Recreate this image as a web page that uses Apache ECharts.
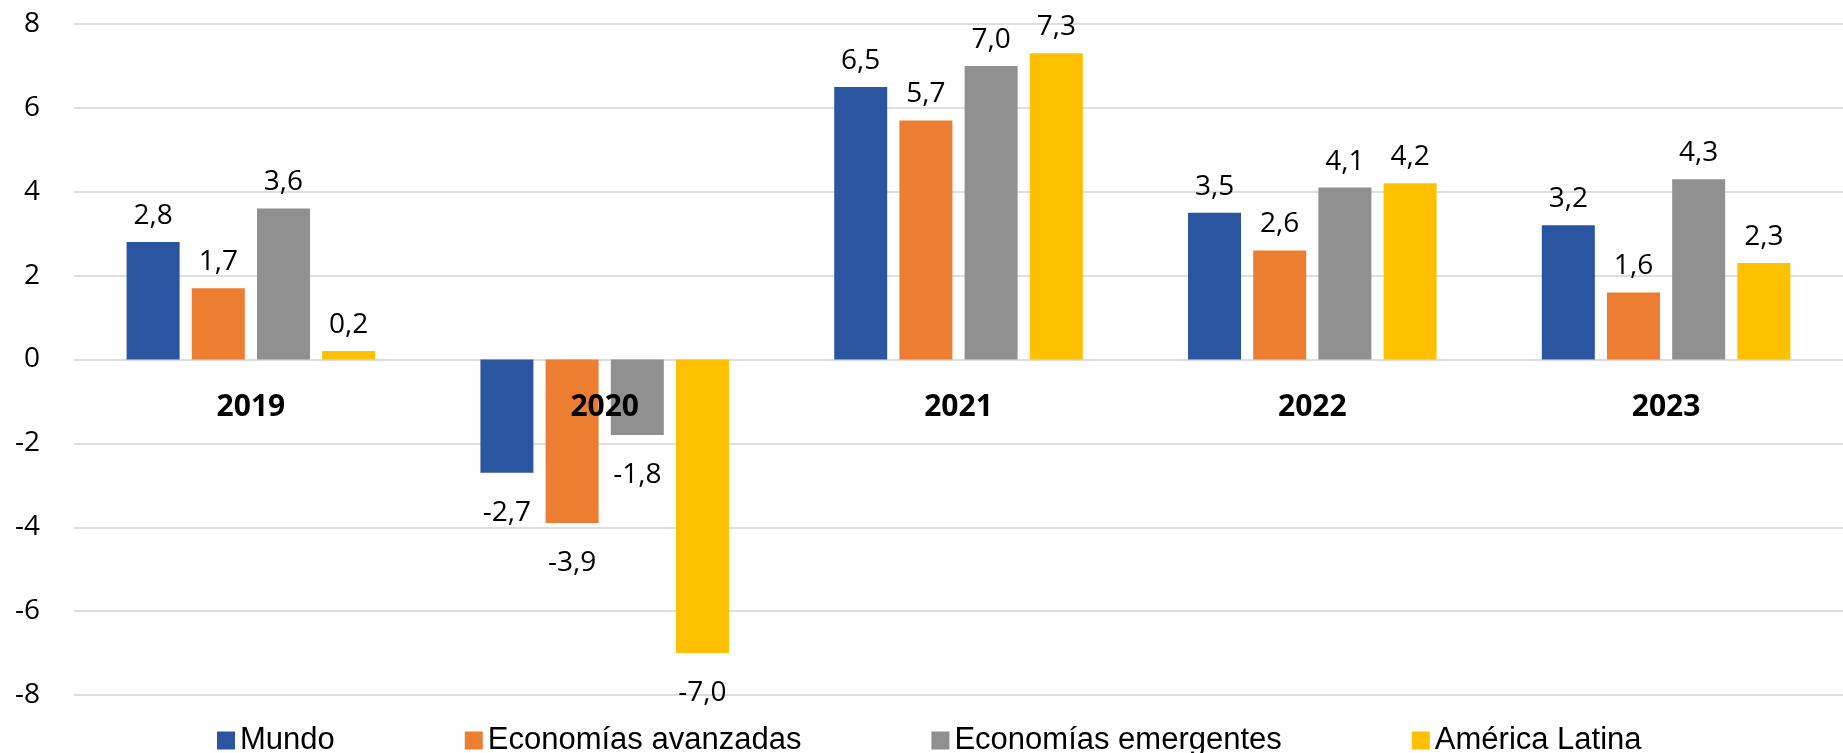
<!DOCTYPE html>
<html>
<head>
<meta charset="utf-8">
<script src="https://cdn.jsdelivr.net/npm/echarts@6/dist/echarts.min.js"></script>
<style>
  html, body { margin: 0; padding: 0; background: #fff; }
  #chart { width: 1843px; height: 753px; }
</style>
</head>
<body>
<div id="chart"></div>
<script>
  // datos
  const years = ['2019', '2020', '2021', '2022', '2023'];
  const mundo = [2.8, -2.7, 6.5, 3.5, 3.2];
  const avanzadas = [1.7, -3.9, 5.7, 2.6, 1.6];
  const emergentes = [3.6, -1.8, 7.0, 4.1, 4.3];
  const latam = [0.2, -7.0, 7.3, 4.2, 2.3];
  const yTicks = [-8, -6, -4, -2, 0, 2, 4, 6, 8];

  const chart = echarts.init(document.getElementById('chart'));

  const fmt = v => v.toFixed(1).replace('.', ',');

  // etiqueta arriba para positivos, abajo para negativos
  function toItems(arr) {
    return arr.map(v => ({
      value: v,
      label: v < 0 ? { position: 'bottom', distance: 26 } : { position: 'top', distance: 12 }
    }));
  }

  function barSeries(name, arr, color) {
    return {
      name: name,
      type: 'bar',
      barWidth: 53,
      barGap: '23%',
      data: toItems(arr),
      itemStyle: { color: color },
      label: {
        show: true,
        color: '#000',
        fontSize: 28,
        fontFamily: 'Open Sans',
        formatter: p => fmt(p.value)
      }
    };
  }

  chart.setOption({
    animation: false,
    grid: {
      left: 74,
      top: 24,
      width: 1778,
      bottom: 58
    },
    legend: {
      left: 212,
      top: 720,
      icon: 'rect',
      itemWidth: 18,
      itemHeight: 18,
      itemGap: 130,
      textStyle: {
        fontFamily: 'Liberation Sans',
        fontSize: 31,
        color: '#000'
      },
      data: ['Mundo', 'Economías avanzadas', 'Economías emergentes', 'América Latina']
    },
    xAxis: {
      type: 'category',
      data: years,
      z: 10,
      position: 'bottom',
      offset: -335.5, // eje x en la línea del cero
      axisLine: { show: false, onZero: false },
      axisTick: { show: false },
      axisLabel: {
        margin: 33,
        fontSize: 30,
        fontWeight: 'bold',
        fontFamily: 'Open Sans',
        color: '#000'
      }
    },
    yAxis: {
      type: 'value',
      min: yTicks[0],
      max: yTicks[yTicks.length - 1],
      interval: 2,
      axisLine: { show: false },
      axisTick: { show: false },
      axisLabel: {
        margin: 34,
        fontSize: 28,
        fontFamily: 'Open Sans',
        color: '#000'
      },
      splitLine: {
        lineStyle: { color: '#dedede', width: 2 }
      }
    },
    series: [
      barSeries('Mundo', mundo, '#2A55A0'),
      barSeries('Economías avanzadas', avanzadas, '#ED7D31'),
      barSeries('Economías emergentes', emergentes, '#909090'),
      barSeries('América Latina', latam, '#FFC000')
    ]
  });
</script>
</body>
</html>
